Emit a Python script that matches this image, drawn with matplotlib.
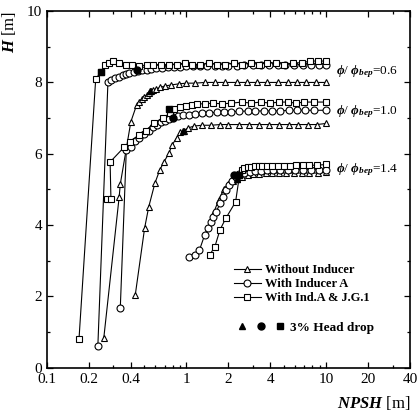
import matplotlib
matplotlib.use("Agg")
import matplotlib.pyplot as plt
from matplotlib.lines import Line2D
from matplotlib.legend_handler import HandlerTuple
from matplotlib.ticker import MultipleLocator, FixedLocator, FixedFormatter

plt.rcParams['font.family'] = ['Liberation Serif', 'DejaVu Serif']
plt.rcParams['mathtext.fontset'] = 'custom'
plt.rcParams['mathtext.rm'] = 'Liberation Serif'
plt.rcParams['mathtext.it'] = 'Liberation Serif:italic'
plt.rcParams['mathtext.bf'] = 'Liberation Serif:italic:bold'

# --- data (NPSH [m], H [m]) ---
# phi/phi_bep = 0.6
tri06_x = [0.256, 0.33, 0.336, 0.40, 0.44, 0.46, 0.48, 0.50, 0.52, 0.54, 0.56, 0.58, 0.61, 0.65, 0.70,
           0.78, 0.88, 1.0, 1.15, 1.35, 1.6, 1.9, 2.3, 2.7, 3.2, 3.8, 4.5, 5.3, 6.2, 7.2, 8.5, 10.0]
tri06_h = [0.84, 4.8, 5.15, 6.9, 7.37, 7.45, 7.55, 7.6, 7.65, 7.7, 7.75, 7.78, 7.82, 7.86, 7.9,
           7.93, 7.96, 7.98, 7.98, 8.0, 8.0, 8.0, 8.0, 8.0, 8.0, 8.0, 8.0, 8.0, 8.0, 8.0, 8.0, 8.0]
cir06_x = [0.232, 0.274, 0.29, 0.31, 0.33, 0.35, 0.37, 0.39, 0.42, 0.45, 0.48, 0.52, 0.56, 0.61, 0.67,
           0.74, 0.82, 0.9, 1.0, 1.12, 1.25, 1.4, 1.6, 1.8, 2.0, 2.3, 2.6, 3.0, 3.4, 3.9, 4.5, 5.1,
           5.9, 6.8, 7.8, 8.9, 10.0]
cir06_h = [0.6, 8.0, 8.08, 8.12, 8.16, 8.2, 8.23, 8.26, 8.3, 8.32, 8.34, 8.36, 8.38, 8.4, 8.4,
           8.42, 8.43, 8.44, 8.45, 8.45, 8.45, 8.46, 8.46, 8.47, 8.47, 8.47, 8.48, 8.48, 8.48, 8.48, 8.48, 8.49,
           8.5, 8.5, 8.5, 8.5, 8.5]
sq06_x = [0.17, 0.224, 0.245, 0.26, 0.28, 0.30, 0.33, 0.37, 0.41, 0.46, 0.52, 0.58, 0.66, 0.75, 0.85,
          0.97, 1.1, 1.25, 1.45, 1.65, 1.9, 2.2, 2.5, 2.9, 3.3, 3.8, 4.4, 5.0, 5.8, 6.7, 7.7, 8.8, 10.0]
sq06_h = [0.8, 8.1, 8.3, 8.5, 8.55, 8.6, 8.55, 8.5, 8.5, 8.45, 8.5, 8.5, 8.5, 8.5, 8.5,
          8.55, 8.5, 8.5, 8.55, 8.5, 8.5, 8.55, 8.5, 8.55, 8.5, 8.55, 8.55, 8.5, 8.55, 8.55, 8.6, 8.6, 8.6]

# phi/phi_bep = 1.0
tri10_x = [0.43, 0.502, 0.537, 0.595, 0.645, 0.69, 0.75, 0.79, 0.85, 0.9, 0.96, 1.02, 1.14, 1.3, 1.5,
           1.75, 2.0, 2.4, 2.8, 3.3, 3.9, 4.6, 5.4, 6.3, 7.4, 8.6, 10.0]
tri10_h = [2.04, 3.92, 4.51, 5.18, 5.55, 5.77, 6.02, 6.25, 6.44, 6.6, 6.65, 6.72, 6.78, 6.8, 6.8,
           6.82, 6.82, 6.82, 6.82, 6.82, 6.82, 6.82, 6.82, 6.82, 6.82, 6.82, 6.85]
cir10_x = [0.336, 0.371, 0.40, 0.43, 0.46, 0.5, 0.54, 0.58, 0.62, 0.66, 0.7, 0.75, 0.8, 0.87, 0.95,
           1.05, 1.15, 1.3, 1.45, 1.65, 1.85, 2.1, 2.4, 2.75, 3.1, 3.6, 4.1, 4.7, 5.4, 6.2, 7.1, 8.2, 10.0]
cir10_h = [1.68, 6.1, 6.2, 6.35, 6.45, 6.55, 6.65, 6.75, 6.82, 6.88, 6.93, 6.98, 7.02, 7.05, 7.08,
           7.1, 7.12, 7.14, 7.15, 7.16, 7.17, 7.18, 7.19, 7.2, 7.2, 7.2, 7.2, 7.2, 7.22, 7.22, 7.22, 7.22, 7.22]
sq10_x = [0.272, 0.288, 0.284, 0.359, 0.396, 0.454, 0.51, 0.584, 0.68, 0.76, 0.82, 0.9, 1.0, 1.1, 1.2, 1.35,
          1.55, 1.8, 2.1, 2.5, 2.9, 3.4, 4.0, 4.6, 5.3, 6.1, 7.0, 8.2, 10.0]
sq10_h = [4.73, 4.73, 5.77, 6.19, 6.33, 6.53, 6.64, 6.86, 7.0, 7.14, 7.25, 7.3, 7.35, 7.38, 7.4, 7.4,
          7.42, 7.4, 7.42, 7.45, 7.42, 7.45, 7.42, 7.45, 7.45, 7.42, 7.45, 7.45, 7.45]

# phi/phi_bep = 1.4
tri14_x = [1.55, 1.7, 1.85, 2.0, 2.15, 2.3, 2.5, 2.75, 3.0, 3.3, 3.7, 4.1, 4.6, 5.2, 5.9, 6.7, 7.6, 8.7, 10.0]
tri14_h = [4.3, 4.7, 5.0, 5.15, 5.25, 5.3, 5.35, 5.4, 5.42, 5.44, 5.45, 5.46, 5.46, 5.46, 5.46, 5.46, 5.46,
           5.46, 5.48]
cir14_x = [1.05, 1.16, 1.24, 1.35, 1.42, 1.49, 1.55, 1.63, 1.75, 1.84, 1.93, 2.02, 2.12, 2.25, 2.4, 2.6,
           2.85, 3.1, 3.4, 3.8, 4.2, 4.7, 5.3, 6.0, 6.8, 7.8, 8.9, 10.0]
cir14_h = [3.11, 3.17, 3.3, 3.72, 3.92, 4.09, 4.23, 4.37, 4.62, 4.8, 4.99, 5.13, 5.25, 5.35, 5.42, 5.47,
           5.5, 5.52, 5.53, 5.55, 5.55, 5.55, 5.55, 5.55, 5.55, 5.55, 5.55, 5.55]
sq14_x = [1.47, 1.6, 1.74, 1.92, 2.25, 2.4, 2.5, 2.6, 2.75, 2.9, 3.1, 3.3, 3.5, 3.8, 4.1, 4.5, 5.0, 5.5,
          6.1, 6.8, 7.6, 8.6, 10.0]
sq14_h = [3.17, 3.4, 3.87, 4.2, 4.65, 5.4, 5.55, 5.6, 5.62, 5.63, 5.65, 5.65, 5.65, 5.65, 5.65, 5.67, 5.67,
          5.67, 5.68, 5.68, 5.68, 5.68, 5.7]

# 3% head drop points
hd_tri_x = [0.55, 0.95, 2.3]
hd_tri_h = [7.75, 6.65, 5.3]
hd_cir_x = [0.44, 0.8, 2.2]
hd_cir_h = [8.35, 7.0, 5.4]
hd_sq_x = [0.245, 0.75, 2.4]
hd_sq_h = [8.3, 7.25, 5.4]

ratio_labels = ["0.6", "1.0", "1.4"]
ratio_h = [8.3, 7.17, 5.55]

xticks = [0.1, 0.2, 0.4, 1, 2, 4, 10, 20, 40]
xticklabels = ["0.1", "0.2", "0.4", "1", "2", "4", "10", "20", "40"]

fig = plt.figure(figsize=(4.18, 4.11), dpi=100)
ax = fig.add_axes([0.112, 0.105, 0.869, 0.868])

ms = 5
style = dict(color="black", lw=0.8, mfc="white", mec="black", mew=0.8, ms=ms)
for x, h in [(tri06_x, tri06_h), (tri10_x, tri10_h), (tri14_x, tri14_h)]:
    ax.plot(x, h, marker="^", **style)
for x, h in [(cir06_x, cir06_h), (cir10_x, cir10_h), (cir14_x, cir14_h)]:
    ax.plot(x, h, marker="o", **style)
for x, h in [(sq06_x, sq06_h), (sq10_x, sq10_h), (sq14_x, sq14_h)]:
    ax.plot(x, h, marker="s", **style)

ax.plot(hd_tri_x, hd_tri_h, "^", color="black", ms=ms, ls="none")
ax.plot(hd_cir_x, hd_cir_h, "o", color="black", ms=ms, ls="none")
ax.plot(hd_sq_x, hd_sq_h, "s", color="black", ms=ms, ls="none")

for lab, h in zip(ratio_labels, ratio_h):
    ax.text(11.8, h, r"$\mathbf{\phi}$/ $\mathbf{\phi}_{\mathbf{bep}}$=" + lab, fontsize=9.5,
            va="center", ha="left")

ax.set_xscale("log")
ax.set_xlim(0.1, 40)
ax.set_ylim(0, 10)
ax.xaxis.set_major_locator(FixedLocator(xticks))
ax.xaxis.set_major_formatter(FixedFormatter(xticklabels))
ax.yaxis.set_major_locator(MultipleLocator(2))
ax.yaxis.set_minor_locator(MultipleLocator(1))
ax.tick_params(which="both", direction="in", top=True, right=True, labelsize=11, width=0.9)
ax.tick_params(which="major", length=4.5)
ax.tick_params(which="minor", length=2.5)
for s in ax.spines.values():
    s.set_linewidth(1.2)

ax.set_xlabel(r"$\mathbf{NPSH}$ [m]", fontsize=12, loc="right", labelpad=6)
ax.set_ylabel(r"$\mathbf{H}$ [m]", fontsize=12, loc="top", labelpad=6)

# legend
h_tri = Line2D([], [], marker="^", **style)
h_cir = Line2D([], [], marker="o", **style)
h_sq = Line2D([], [], marker="s", **style)
leg = ax.legend([h_tri, h_cir, h_sq], ["Without Inducer", "With Inducer A", "With Ind.A & J.G.1"],
                loc="upper left", bbox_to_anchor=(0.514, 0.29), frameon=False, handlelength=2.2,
                handletextpad=0.3, labelspacing=0.15, borderpad=0, borderaxespad=0,
                prop={"weight": "bold", "size": 9})
ax.add_artist(leg)
f_tri = Line2D([], [], marker="^", color="black", ls="none", ms=ms)
f_cir = Line2D([], [], marker="o", color="black", ls="none", ms=ms)
f_sq = Line2D([], [], marker="s", color="black", ls="none", ms=ms)
ax.legend([(f_tri, f_cir, f_sq)], ["3% Head drop"], handler_map={tuple: HandlerTuple(ndivide=None, pad=0.8)},
          loc="upper left", bbox_to_anchor=(0.527, 0.13), frameon=False, handlelength=3.5,
          handletextpad=0.4, borderpad=0, borderaxespad=0, prop={"weight": "bold", "size": 9.5})

fig.savefig("out.png", dpi=100)
